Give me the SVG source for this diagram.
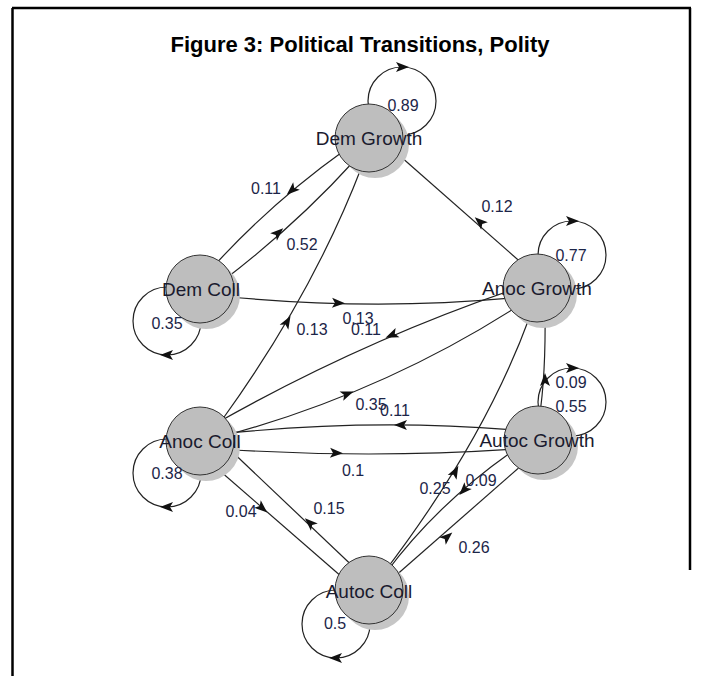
<svg xmlns="http://www.w3.org/2000/svg" xmlns:xlink="http://www.w3.org/1999/xlink" width="702" height="676" viewBox="0 0 702 676">
<style>
.frame{stroke:#000;stroke-width:2.5;fill:none}
.title{font-family:"Liberation Sans",Arial,sans-serif;font-weight:bold;font-size:22px;fill:#000}
.e{fill:none;stroke:#222;stroke-width:1.2}
.loop{fill:none;stroke:#222;stroke-width:1.2}
.ah{fill:#111}
.shadow{fill:#c6c6c6}
.node{fill:#bebebe;stroke:#333;stroke-width:1}
.nl{font-family:"Liberation Sans",Arial,sans-serif;font-size:19px;fill:#1a1a2e;text-anchor:middle}
.el{font-family:"Liberation Sans",Arial,sans-serif;font-size:16px;fill:#1c2548;text-anchor:middle}
</style>
<defs>
<path id="ah" d="M7,0 L-6,-5 L-3,0 L-6,5 Z"/>
</defs>
<rect x="0" y="0" width="702" height="676" fill="#fff"/>
<g id="frame">
<line class="frame" x1="12" y1="8" x2="691" y2="8"/>
<line class="frame" x1="12.5" y1="8" x2="12.5" y2="676"/>
<line class="frame" x1="690" y1="8" x2="690" y2="570"/>
</g>
<text class="title" x="360" y="52" text-anchor="middle">Figure 3: Political Transitions, Polity</text>
<g id="connectors">
<!-- self loops -->
<circle class="loop" cx="402" cy="101" r="34"/>
<circle class="loop" cx="167" cy="321" r="34"/>
<circle class="loop" cx="572" cy="255" r="34"/>
<circle class="loop" cx="167" cy="473" r="34"/>
<circle class="loop" cx="572" cy="402" r="34"/>
<circle class="loop" cx="336" cy="624" r="34"/>
<!-- edges -->
<path class="e" d="M345,150 Q272,202 212,268"/>
<path class="e" d="M224,280 Q296,225 355,160"/>
<path class="e" d="M222,420 Q313,294 362,166"/>
<path class="e" d="M525,266 L400,156"/>
<path class="e" d="M220,296 Q370,311 512,298"/>
<path class="e" d="M512,290 Q360,342 215,424"/>
<path class="e" d="M220,437 Q381,394 518,306"/>
<path class="e" d="M515,430 Q370,418 220,434"/>
<path class="e" d="M220,449 Q370,459 515,449"/>
<path class="e" d="M212,464 L350,584"/>
<path class="e" d="M362,575 L224,444"/>
<path class="e" d="M385,585 L530,458"/>
<path class="e" d="M520,446 Q440,500 385,574"/>
<path class="e" d="M382,575 Q484,442 530,316"/>
<path class="e" d="M539,420 Q546,375 545,310"/>
<!-- arrowheads -->
<use href="#ah" class="ah" transform="translate(292,190) rotate(138.6)"/>
<use href="#ah" class="ah" transform="translate(278,233) rotate(-42.4)"/>
<use href="#ah" class="ah" transform="translate(287,322) rotate(-60)"/>
<use href="#ah" class="ah" transform="translate(480,222) rotate(221.7)"/>
<use href="#ah" class="ah" transform="translate(338,303) rotate(1.6)"/>
<use href="#ah" class="ah" transform="translate(392,335) rotate(157.3)"/>
<use href="#ah" class="ah" transform="translate(347,394) rotate(-21.5)"/>
<use href="#ah" class="ah" transform="translate(401,425) rotate(181)"/>
<use href="#ah" class="ah" transform="translate(336,453) rotate(2)"/>
<use href="#ah" class="ah" transform="translate(262,508) rotate(41)"/>
<use href="#ah" class="ah" transform="translate(310,523) rotate(-136.5)"/>
<use href="#ah" class="ah" transform="translate(447,537) rotate(-41)"/>
<use href="#ah" class="ah" transform="translate(464,490) rotate(133)"/>
<use href="#ah" class="ah" transform="translate(455,472) rotate(-61.6)"/>
<use href="#ah" class="ah" transform="translate(545,380) rotate(-90)"/>
<use href="#ah" class="ah" transform="translate(402,67) rotate(0)"/>
<use href="#ah" class="ah" transform="translate(167,355) rotate(180)"/>
<use href="#ah" class="ah" transform="translate(572,221) rotate(0)"/>
<use href="#ah" class="ah" transform="translate(167,507) rotate(180)"/>
<use href="#ah" class="ah" transform="translate(572,368) rotate(0)"/>
<use href="#ah" class="ah" transform="translate(336,658) rotate(180)"/>
</g>
<g id="n-dem-growth">
<circle class="shadow" cx="375" cy="144" r="34"/>
<circle class="node" cx="369" cy="138" r="34"/>
<text class="nl" x="369" y="144.5">Dem Growth</text>
</g>
<g id="n-dem-coll">
<circle class="shadow" cx="206" cy="295" r="34"/>
<circle class="node" cx="200" cy="289" r="34"/>
<text class="nl" x="201" y="296">Dem Coll</text>
</g>
<g id="n-anoc-growth">
<circle class="shadow" cx="543" cy="294" r="34"/>
<circle class="node" cx="537" cy="288" r="34"/>
<text class="nl" x="537" y="295">Anoc Growth</text>
</g>
<g id="n-anoc-coll">
<circle class="shadow" cx="206" cy="447" r="34"/>
<circle class="node" cx="200" cy="441" r="34"/>
<text class="nl" x="200" y="448">Anoc Coll</text>
</g>
<g id="n-autoc-growth">
<circle class="shadow" cx="544" cy="446" r="34"/>
<circle class="node" cx="538" cy="440" r="34"/>
<text class="nl" x="537" y="447">Autoc Growth</text>
</g>
<g id="n-autoc-coll">
<circle class="shadow" cx="375" cy="596" r="34"/>
<circle class="node" cx="369" cy="590" r="34"/>
<text class="nl" x="369" y="598">Autoc Coll</text>
</g>
<g id="edge-labels">
<text class="el" x="403" y="110.5">0.89</text>
<text class="el" x="266" y="193.5">0.11</text>
<text class="el" x="302" y="250">0.52</text>
<text class="el" x="167" y="328.5">0.35</text>
<text class="el" x="312" y="334.5">0.13</text>
<text class="el" x="358" y="323.5">0.13</text>
<text class="el" x="366" y="334.5">0.11</text>
<text class="el" x="497" y="211.5">0.12</text>
<text class="el" x="571" y="260.5">0.77</text>
<text class="el" x="371" y="409.5">0.35</text>
<text class="el" x="395" y="415.5">0.11</text>
<text class="el" x="353" y="475.5">0.1</text>
<text class="el" x="167" y="478.5">0.38</text>
<text class="el" x="241" y="516.5">0.04</text>
<text class="el" x="329" y="513.5">0.15</text>
<text class="el" x="571" y="387.5">0.09</text>
<text class="el" x="571" y="411.5">0.55</text>
<text class="el" x="435" y="493.5">0.25</text>
<text class="el" x="481" y="485.5">0.09</text>
<text class="el" x="474" y="552.5">0.26</text>
<text class="el" x="335" y="628.5">0.5</text>
</g>
</svg>
